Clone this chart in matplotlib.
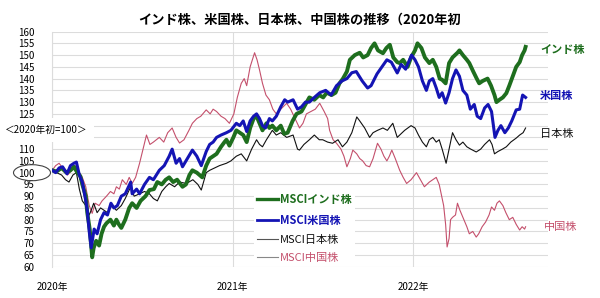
import matplotlib
matplotlib.use('Agg')
import matplotlib.pyplot as plt
from matplotlib.lines import Line2D
from matplotlib.patches import Ellipse
import pandas as pd

plt.rcParams['font.family'] = ['Noto Sans CJK JP', 'DejaVu Sans']

# MSCI index, 2020 start = 100
india_dates = ['2020-01-01', '2020-01-10', '2020-01-20', '2020-01-30', '2020-02-07', '2020-02-14', '2020-02-21',
               '2020-02-27', '2020-03-02', '2020-03-09', '2020-03-12', '2020-03-17', '2020-03-22', '2020-03-25',
               '2020-03-30', '2020-04-05', '2020-04-10', '2020-04-15', '2020-04-20', '2020-04-28', '2020-05-05',
               '2020-05-10', '2020-05-15', '2020-05-20', '2020-05-28', '2020-06-05', '2020-06-11', '2020-06-20',
               '2020-06-28', '2020-07-08', '2020-07-16', '2020-07-25', '2020-08-01', '2020-08-10', '2020-08-18',
               '2020-08-25', '2020-09-02', '2020-09-10', '2020-09-21', '2020-09-28', '2020-10-05', '2020-10-11',
               '2020-10-20', '2020-10-31', '2020-11-08', '2020-11-15', '2020-11-22', '2020-11-29', '2020-12-08',
               '2020-12-15', '2020-12-19', '2020-12-25', '2021-01-02', '2021-01-08', '2021-01-15', '2021-01-22',
               '2021-01-29', '2021-02-05', '2021-02-12', '2021-02-18', '2021-02-24', '2021-03-02', '2021-03-10',
               '2021-03-16', '2021-03-22', '2021-03-30', '2021-04-08', '2021-04-15', '2021-04-22', '2021-05-02',
               '2021-05-10', '2021-05-20', '2021-05-28', '2021-06-05', '2021-06-15', '2021-06-25', '2021-07-03',
               '2021-07-10', '2021-07-20', '2021-07-28', '2021-08-05', '2021-08-12', '2021-08-20', '2021-08-26',
               '2021-09-05', '2021-09-15', '2021-09-22', '2021-10-01', '2021-10-08', '2021-10-15', '2021-10-22',
               '2021-11-01', '2021-11-08', '2021-11-15', '2021-11-22', '2021-11-30', '2021-12-05', '2021-12-12',
               '2021-12-21', '2021-12-28', '2022-01-05', '2022-01-10', '2022-01-18', '2022-01-25', '2022-02-03',
               '2022-02-10', '2022-02-17', '2022-02-24', '2022-03-01', '2022-03-08', '2022-03-15', '2022-03-22',
               '2022-04-01', '2022-04-05', '2022-04-12', '2022-04-20', '2022-04-25', '2022-05-03', '2022-05-10',
               '2022-05-15', '2022-05-22', '2022-06-01', '2022-06-08', '2022-06-15', '2022-06-19', '2022-06-25',
               '2022-07-02', '2022-07-09', '2022-07-15', '2022-07-22', '2022-07-29', '2022-08-05', '2022-08-10',
               '2022-08-15', '2022-08-17']
india = [101, 100.5, 102, 100, 101, 102.5, 100,
         98.5, 95, 90, 83, 76, 64, 68,
         71, 69, 74, 77, 78.5, 80, 77.5,
         80, 78, 76.5, 80, 85, 87, 85,
         88, 90, 92.6, 93, 96, 95, 97,
         98, 96, 97, 94, 95, 99, 101,
         100, 98, 103, 106, 107, 108, 111,
         113, 114, 111.5, 115, 118, 117, 116,
         113, 119, 123, 124, 121, 118, 121,
         119, 120, 118, 120, 116.5, 117, 122,
         125, 126, 129, 132, 131, 133, 132,
         134, 133, 134, 138, 140, 143, 148,
         150, 151, 149, 150, 153, 155, 152,
         150.8, 153, 154.4, 149, 147, 146.6, 148,
         145, 149, 152, 155, 153, 149, 146.6,
         148, 145, 140, 139.5, 138, 146.6, 149,
         151, 152, 150, 148, 146.6, 143, 140,
         138, 139, 140, 137, 133, 130, 131,
         132, 133.8, 137, 141, 145, 147, 150,
         152, 153.5]

us_dates = ['2020-01-01', '2020-01-08', '2020-01-15', '2020-01-22', '2020-01-31', '2020-02-07', '2020-02-14',
            '2020-02-19', '2020-02-25', '2020-03-02', '2020-03-09', '2020-03-12', '2020-03-16', '2020-03-20',
            '2020-03-26', '2020-04-01', '2020-04-08', '2020-04-15', '2020-04-22', '2020-04-29', '2020-05-05',
            '2020-05-12', '2020-05-20', '2020-05-28', '2020-06-08', '2020-06-11', '2020-06-20', '2020-06-26',
            '2020-07-06', '2020-07-16', '2020-07-24', '2020-08-05', '2020-08-15', '2020-08-25', '2020-08-31',
            '2020-09-08', '2020-09-15', '2020-09-21', '2020-09-28', '2020-10-11', '2020-10-20', '2020-10-29',
            '2020-11-08', '2020-11-15', '2020-11-22', '2020-11-29', '2020-12-08', '2020-12-19', '2020-12-28',
            '2021-01-08', '2021-01-15', '2021-01-22', '2021-01-29', '2021-02-05', '2021-02-12', '2021-02-18',
            '2021-02-24', '2021-03-02', '2021-03-08', '2021-03-16', '2021-03-22', '2021-03-30', '2021-04-08',
            '2021-04-16', '2021-04-22', '2021-05-03', '2021-05-12', '2021-05-20', '2021-05-28', '2021-06-05',
            '2021-06-15', '2021-06-26', '2021-07-08', '2021-07-19', '2021-07-30', '2021-08-10', '2021-08-20',
            '2021-08-30', '2021-09-08', '2021-09-20', '2021-10-01', '2021-10-08', '2021-10-20', '2021-10-30',
            '2021-11-09', '2021-11-18', '2021-11-30', '2021-12-08', '2021-12-17', '2021-12-29', '2022-01-05',
            '2022-01-12', '2022-01-20', '2022-01-28', '2022-02-03', '2022-02-10', '2022-02-17', '2022-02-23',
            '2022-03-01', '2022-03-08', '2022-03-15', '2022-03-22', '2022-03-29', '2022-04-05', '2022-04-12',
            '2022-04-20', '2022-04-27', '2022-05-05', '2022-05-11', '2022-05-18', '2022-05-26', '2022-06-02',
            '2022-06-09', '2022-06-16', '2022-06-22', '2022-06-28', '2022-07-06', '2022-07-13', '2022-07-20',
            '2022-07-29', '2022-08-05', '2022-08-11', '2022-08-17']
us = [101, 100, 102, 102.5, 99.5, 103, 104,
      104.5, 99, 96, 88, 84, 75, 68,
      76, 74, 80, 83, 82, 87, 85,
      86, 90, 91, 96, 91, 93, 91,
      95, 98, 97, 101, 103, 107, 110,
      104, 106, 102.5, 105, 109.6, 107, 103,
      109, 112, 113, 115, 116, 117, 118,
      121, 120, 122, 117.5, 122, 124, 125,
      123, 120, 119, 123, 122, 124, 128,
      131, 130, 131, 127, 128, 130, 130,
      132, 134, 135, 133, 137, 139, 140,
      142.5, 143, 139, 136, 137, 142, 145,
      148, 147, 142.4, 146, 144, 150, 148,
      145, 139, 135, 139, 140, 136, 132,
      134, 129.6, 134, 140, 143.7, 141, 135,
      133, 127, 129, 124, 123, 127.5, 129,
      126, 115, 118, 120, 117, 119, 122,
      126.7, 127, 133, 132]

japan_dates = ['2020-01-01', '2020-01-10', '2020-01-20', '2020-01-28', '2020-02-04', '2020-02-12', '2020-02-19',
               '2020-02-25', '2020-03-02', '2020-03-09', '2020-03-16', '2020-03-20', '2020-03-25', '2020-04-01',
               '2020-04-08', '2020-04-15', '2020-04-22', '2020-05-01', '2020-05-10', '2020-05-20', '2020-05-28',
               '2020-06-08', '2020-06-15', '2020-06-26', '2020-07-06', '2020-07-16', '2020-07-24', '2020-08-01',
               '2020-08-10', '2020-08-18', '2020-08-25', '2020-09-05', '2020-09-15', '2020-09-29', '2020-10-12',
               '2020-10-22', '2020-10-29', '2020-11-08', '2020-11-15', '2020-11-25', '2020-12-05', '2020-12-19',
               '2020-12-28', '2021-01-08', '2021-01-18', '2021-01-29', '2021-02-08', '2021-02-18', '2021-02-24',
               '2021-03-02', '2021-03-10', '2021-03-22', '2021-03-30', '2021-04-08', '2021-04-20', '2021-05-03',
               '2021-05-12', '2021-05-16', '2021-05-25', '2021-06-05', '2021-06-15', '2021-06-25', '2021-07-02',
               '2021-07-12', '2021-07-22', '2021-08-02', '2021-08-11', '2021-08-20', '2021-08-30', '2021-09-09',
               '2021-09-15', '2021-09-25', '2021-10-05', '2021-10-12', '2021-10-21', '2021-11-01', '2021-11-10',
               '2021-11-21', '2021-11-30', '2021-12-05', '2021-12-15', '2021-12-28', '2022-01-05', '2022-01-12',
               '2022-01-20', '2022-01-28', '2022-02-03', '2022-02-10', '2022-02-17', '2022-02-23', '2022-03-01',
               '2022-03-09', '2022-03-15', '2022-03-22', '2022-03-29', '2022-04-05', '2022-04-12', '2022-04-20',
               '2022-04-28', '2022-05-09', '2022-05-18', '2022-05-26', '2022-06-05', '2022-06-10', '2022-06-15',
               '2022-06-22', '2022-07-01', '2022-07-09', '2022-07-18', '2022-07-29', '2022-08-05', '2022-08-12',
               '2022-08-17']
japan = [101, 100, 99, 97, 96, 99, 100,
         93, 88, 86, 82, 84, 87, 83,
         85, 84, 83, 86, 84, 86, 89,
         94, 90, 91, 92, 91, 89, 88,
         92, 94, 95.4, 94, 96, 95.4, 97,
         95, 92.6, 100, 101, 102, 103, 104,
         105, 107, 108, 105, 110, 114, 112,
         111, 114, 118, 116, 117, 115, 116,
         110, 109.6, 112, 114, 116, 114, 114,
         113, 112.5, 114, 111, 113, 117, 123.7,
         122, 119, 115, 117, 118, 119, 118,
         121, 115, 116, 118, 120, 119, 116,
         113, 111, 114, 115, 113, 114, 110,
         104, 110, 117, 114, 111.7, 113, 111,
         110, 108.8, 110, 112, 114, 112, 108,
         109, 110, 111, 113, 114.7, 116, 117,
         119]

china_dates = ['2020-01-01', '2020-01-08', '2020-01-15', '2020-01-22', '2020-02-01', '2020-02-10', '2020-02-18',
               '2020-02-25', '2020-03-02', '2020-03-09', '2020-03-16', '2020-03-22', '2020-03-28', '2020-04-05',
               '2020-04-11', '2020-04-20', '2020-04-28', '2020-05-05', '2020-05-10', '2020-05-16', '2020-05-22',
               '2020-05-30', '2020-06-05', '2020-06-11', '2020-06-18', '2020-06-26', '2020-07-03', '2020-07-10',
               '2020-07-17', '2020-07-24', '2020-08-05', '2020-08-14', '2020-08-22', '2020-08-31', '2020-09-08',
               '2020-09-15', '2020-09-24', '2020-10-04', '2020-10-11', '2020-10-20', '2020-10-28', '2020-11-08',
               '2020-11-16', '2020-11-22', '2020-11-29', '2020-12-08', '2020-12-16', '2020-12-25', '2021-01-03',
               '2021-01-10', '2021-01-18', '2021-01-24', '2021-01-29', '2021-02-05', '2021-02-14', '2021-02-19',
               '2021-02-24', '2021-03-02', '2021-03-09', '2021-03-16', '2021-03-23', '2021-03-30', '2021-04-08',
               '2021-04-20', '2021-04-28', '2021-05-07', '2021-05-16', '2021-05-23', '2021-05-30', '2021-06-08',
               '2021-06-17', '2021-06-26', '2021-07-05', '2021-07-12', '2021-07-16', '2021-07-23', '2021-07-30',
               '2021-08-08', '2021-08-14', '2021-08-20', '2021-08-27', '2021-09-01', '2021-09-09', '2021-09-15',
               '2021-09-21', '2021-09-28', '2021-10-05', '2021-10-12', '2021-10-21', '2021-10-28', '2021-11-03',
               '2021-11-09', '2021-11-14', '2021-11-19', '2021-11-26', '2021-12-05', '2021-12-12', '2021-12-19',
               '2021-12-28', '2022-01-08', '2022-01-16', '2022-01-24', '2022-02-03', '2022-02-10', '2022-02-17',
               '2022-02-23', '2022-02-27', '2022-03-04', '2022-03-08', '2022-03-11', '2022-03-15', '2022-03-18',
               '2022-03-22', '2022-03-28', '2022-04-01', '2022-04-06', '2022-04-14', '2022-04-20', '2022-04-25',
               '2022-05-02', '2022-05-09', '2022-05-14', '2022-05-21', '2022-05-28', '2022-06-04', '2022-06-09',
               '2022-06-15', '2022-06-20', '2022-06-25', '2022-07-02', '2022-07-08', '2022-07-15', '2022-07-22',
               '2022-07-29', '2022-08-05', '2022-08-10', '2022-08-15', '2022-08-17']
china = [101, 103, 104, 102, 99, 101, 103,
         100, 98, 94, 86, 82.7, 87, 86,
         88, 90, 92, 91, 94, 93, 97,
         95, 98, 95.4, 98, 104, 110, 116,
         112, 113, 115, 113, 117, 119, 115,
         112.6, 114, 118, 121, 123, 124, 126.7,
         125, 127, 126, 124, 123, 121, 125,
         132, 138, 140, 137, 145, 151, 148,
         143.7, 138, 133, 131, 127, 125, 127,
         129.5, 127, 123, 119, 121, 125, 126,
         127, 129.5, 126, 123, 118, 114, 112.5,
         110, 107, 102.5, 106, 109.6, 108, 106,
         105, 103, 102.5, 106, 112.5, 110, 107,
         105, 107, 109.6, 106, 101, 98, 95.4,
         97, 100, 97, 94, 96, 97, 98,
         95, 91, 86, 78, 68.4, 72, 80,
         81, 82, 87, 84, 80, 77, 74,
         75, 72.6, 74, 77, 79, 82, 85.4,
         84, 87, 88, 86, 83, 80, 81,
         78, 75.6, 77, 76, 77]

year_ticks = ['2020-01-01', '2021-01-01', '2022-01-01']
year_labels = ['2020年', '2021年', '2022年']
y_ticks = list(range(60, 161, 5))
y_labels = ['' if v in (115, 120) else str(v) for v in y_ticks]

green = '#1e6e1e'
blue = '#1414b4'
black = '#111111'
pink = '#c4506c'

fig = plt.figure(figsize=(6, 2.98), dpi=100)
ax = fig.add_axes([0.087, 0.105, 0.826, 0.789])

ax.plot(pd.to_datetime(china_dates), china, color=pink, lw=0.8, zorder=3)
ax.plot(pd.to_datetime(japan_dates), japan, color=black, lw=0.8, zorder=4)
ax.plot(pd.to_datetime(india_dates), india, color=green, lw=2.8, zorder=5)
ax.plot(pd.to_datetime(us_dates), us, color=blue, lw=2.2, zorder=6)

ax.set_ylim(60, 160)
ax.set_yticks(y_ticks)
ax.set_yticklabels(y_labels)
ax.set_xlim(pd.Timestamp('2020-01-01'), pd.Timestamp('2022-10-01'))
ax.set_xticks(pd.to_datetime(year_ticks))
ax.set_xticklabels(year_labels)
ax.tick_params(axis='y', length=0, pad=13, labelsize=7)
ax.tick_params(axis='x', length=0, pad=11, labelsize=7)
ax.grid(True, color='#dcdcdc', lw=0.8, zorder=0)
for s in ['top', 'right', 'bottom']:
    ax.spines[s].set_visible(False)
ax.spines['left'].set_color('#dcdcdc')

fig.text(0.5, 0.935, 'インド株、米国株、日本株、中国株の推移（2020年初', ha='center', va='center',
         fontsize=9.5, fontweight='bold')
fig.text(0.008, (298 - 130) / 298, '＜2020年初=100＞', ha='left', va='center', fontsize=7,
         bbox=dict(facecolor='white', edgecolor='none', pad=5))
fig.patches.append(Ellipse((32 / 600, (298 - 172.7) / 298), 37 / 600, 16 / 298,
                           transform=fig.transFigure, fill=False, edgecolor='#444444', lw=0.8))

fig.text(540 / 600, (298 - 50) / 298, 'インド株', color=green, fontsize=8, fontweight='bold', va='center')
fig.text(540 / 600, (298 - 95) / 298, '米国株', color=blue, fontsize=8, fontweight='bold', va='center')
fig.text(540 / 600, (298 - 134) / 298, '日本株', color=black, fontsize=8, va='center')
fig.text(544 / 600, (298 - 227) / 298, '中国株', color=pink, fontsize=8, va='center')

handles = [Line2D([], [], color=green, lw=2.4), Line2D([], [], color=blue, lw=2.0),
           Line2D([], [], color='#555555', lw=0.8), Line2D([], [], color='#888888', lw=0.8)]
labels = ['MSCIインド株', 'MSCI米国株', 'MSCI日本株', 'MSCI中国株']
leg = ax.legend(handles, labels, loc='upper left', bbox_to_anchor=(248 / 600, (298 - 184) / 298),
                bbox_transform=fig.transFigure, frameon=True, fontsize=8, handlelength=1.9,
                handletextpad=0.15, labelspacing=0.72, borderpad=0.3, fancybox=False)
leg.get_frame().set_edgecolor('none')
leg.get_frame().set_facecolor('white')
leg.get_frame().set_alpha(1)
leg.set_zorder(10)
for t, c, w in zip(leg.get_texts(), [green, blue, black, pink], ['bold', 'bold', 'normal', 'normal']):
    t.set_color(c)
    t.set_fontweight(w)

fig.savefig('out.png', dpi=100)
